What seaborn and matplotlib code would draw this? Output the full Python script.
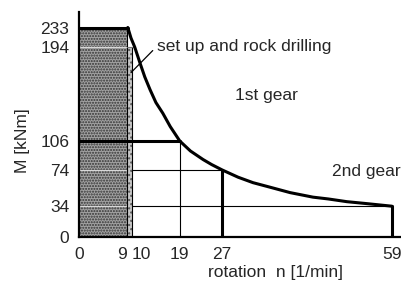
import numpy as np
import matplotlib
matplotlib.use("Agg")
import matplotlib.pyplot as plt
import seaborn as sns

# values
n_ticks = [0, 9, 10, 19, 27, 59]
m_ticks = [0, 34, 74, 106, 194, 233]

# torque curve (rotation n [1/min], torque M [kNm])
curve_n = [9.2, 9.8, 10.5, 11.5, 12.4, 13.4, 14.5, 15.8, 17.2, 19, 21, 23.4, 25,
           27, 30, 32.8, 36, 39.8, 44.1, 47, 50.5, 54, 59]
curve_m = [233, 212, 194, 179, 166, 154, 142, 132, 119.5, 106, 95, 85.5, 80,
           74, 66, 60, 55, 49, 44, 42, 39, 37, 34]

drill_n = [0, 9]       # set up and rock drilling zone
drill_m_max = 233
strip_n = [9, 10]
strip_m_max = 194

first_gear = (19, 106)
second_gear = (27, 74)
end_point = (59, 34)

# the drawing is schematic: the M axis is not evenly spaced
y_scale_values = [0, 106, 194, 233, 264]
y_scale_heights = [0, 96, 190, 209.5, 225]


def forward(v):
    return np.interp(v, y_scale_values, y_scale_heights)


def inverse(h):
    return np.interp(h, y_scale_heights, y_scale_values)


sns.set_style("white")
plt.rcParams['font.family'] = ['Liberation Sans', 'DejaVu Sans']

fig = plt.figure(figsize=(4.01, 2.82), dpi=100)
ax = fig.add_axes([79 / 401, 45 / 282, 322 / 401, 225 / 282])
ax.set_yscale('function', functions=(forward, inverse))
ax.set_xlim(0, 60.7)
ax.set_ylim(0, 264)

thick = 2.2
thin = 0.8

# stippled zone
ax.fill_between(drill_n, 0, drill_m_max, facecolor='#a2a2a2', edgecolor='#333333',
                hatch='......', linewidth=0, zorder=1)
ax.fill_between(strip_n, 0, strip_m_max, facecolor='#c8c8c8', edgecolor='#555555',
                hatch='....', linewidth=0, zorder=1)

# light grid lines inside the stippled zone
for m in [194, 74, 34]:
    ax.plot([0, 9], [m, m], color='#d8d8d8', lw=thin, zorder=2)

# thin guide lines
ax.plot([9, 9], [0, drill_m_max], color='black', lw=thin, zorder=2)
ax.plot([10, 10], [0, strip_m_max], color='black', lw=thin, zorder=2)
ax.plot([9, 10.5], [194, 194], color='#777777', lw=thin, zorder=2)
ax.plot([10, second_gear[0]], [74, 74], color='black', lw=thin, zorder=2)
ax.plot([10, end_point[0]], [34, 34], color='black', lw=thin, zorder=2)
ax.plot([first_gear[0], first_gear[0]], [0, first_gear[1]], color='black', lw=thin, zorder=2)

# thick outline
ax.plot([0, curve_n[0]], [drill_m_max, drill_m_max], color='black', lw=thick, zorder=3)
sns.lineplot(x=curve_n, y=curve_m, sort=False, color='black', lw=thick, ax=ax, zorder=3)
ax.plot([0, first_gear[0]], [first_gear[1], first_gear[1]], color='black', lw=thick, zorder=3)
ax.plot([second_gear[0], second_gear[0]], [0, second_gear[1]], color='black', lw=thick, zorder=3)
ax.plot([end_point[0], end_point[0]], [0, end_point[1]], color='black', lw=thick, zorder=3)

# labels
ax.annotate('set up and rock drilling', xy=(9.8, 170), xytext=(14.7, 194),
            fontsize=12.5, ha='left', va='center',
            arrowprops=dict(arrowstyle='-', lw=0.9, color='black',
                            shrinkA=1, shrinkB=0, relpos=(0, 0.55)))
ax.text(29.4, 149, '1st gear', fontsize=12.5, ha='left', va='center')
ax.text(47.7, 72, '2nd gear', fontsize=12.5, ha='left', va='center')

ax.set_xticks(n_ticks)
ax.set_xticklabels([str(v) for v in n_ticks])
ax.set_yticks(m_ticks)
ax.set_yticklabels([str(v) for v in m_ticks])
ax.minorticks_off()
ax.tick_params(axis='both', length=0, labelsize=12.5, pad=7)
xl = ax.get_xticklabels()
xl[1].set_ha('right')
xl[2].set_ha('left')

ax.set_xlabel('')
ax.set_ylabel('')
ax.text(0.609, -0.156, 'rotation  n [1/min]', transform=ax.transAxes,
        fontsize=12.5, ha='center', va='center')
ax.text(-0.174, 0.427, 'M [kNm]', transform=ax.transAxes, rotation=90,
        fontsize=12.5, ha='center', va='center')

for side in ['top', 'right']:
    ax.spines[side].set_visible(False)
for side in ['left', 'bottom']:
    ax.spines[side].set_linewidth(1.6)
    ax.spines[side].set_color('black')
ax.grid(False)

fig.savefig('out.png', dpi=100)
